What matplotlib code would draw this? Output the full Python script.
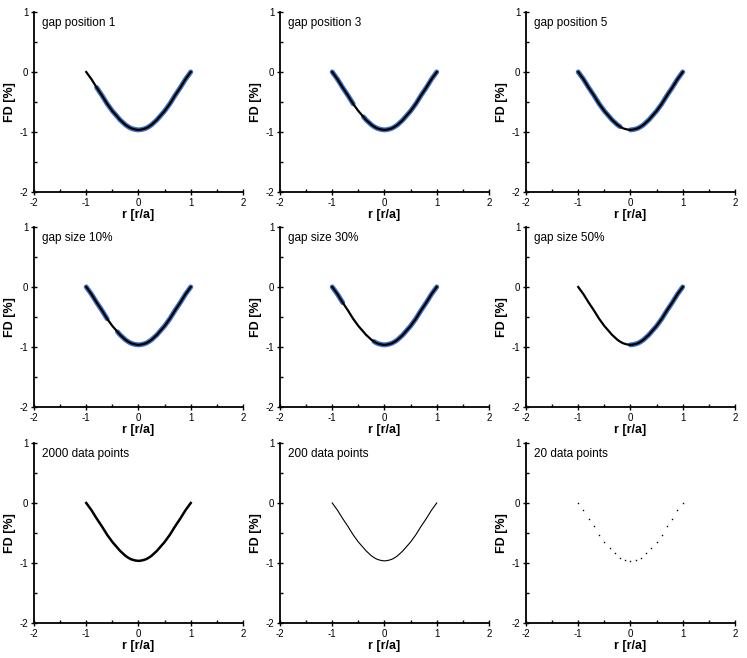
import numpy as np
from matplotlib import pyplot as plt

plt.rcParams['font.family'] = ['Liberation Sans', 'DejaVu Sans']
plt.rcParams['axes.unicode_minus'] = False

# curve, r from -1 to 1 in steps of 0.05
r_fine = np.round(np.arange(-1, 1.0001, 0.05), 3)
fd_half = [0.0, -0.06, -0.12, -0.19, -0.26, -0.325, -0.39, -0.46, -0.53, -0.59,
           -0.65, -0.70, -0.75, -0.80, -0.84, -0.88, -0.91, -0.935, -0.95, -0.96, -0.965]
fd_fine = np.array(fd_half + fd_half[-2::-1])

# the 20 data points panel (every 0.1)
r_coarse = r_fine[::2]
fd_coarse = fd_fine[::2]

titles = ["gap position 1", "gap position 3", "gap position 5",
          "gap size 10%", "gap size 30%", "gap size 50%",
          "2000 data points", "200 data points", "20 data points"]
# gaps in the blue data line (r from, r to)
gaps = [(-1.0, -0.8), (-0.6, -0.4), (-0.2, 0.0),
        (-0.6, -0.4), (-0.8, -0.2), (-1.0, 0.0)]

col_left = [0.0455, 0.3748, 0.7041]
row_bottom = [0.7082, 0.3815, 0.0532]
W, H = 0.2798, 0.2736

fig = plt.figure(figsize=(7.47, 6.58), dpi=100)

for i, title in enumerate(titles):
    row, col = divmod(i, 3)
    ax = fig.add_axes([col_left[col], row_bottom[row], W, H])

    if i < 6:
        lo, hi = gaps[i]
        data = np.where((r_fine > lo + 1e-6) & (r_fine < hi - 1e-6), np.nan, fd_fine)
        if lo <= -1.0:
            data[0] = fd_fine[0]
        ax.plot(r_fine, data, color="#3f73c4", lw=3.6, solid_capstyle="round")
        ax.plot(r_fine, fd_fine, color="black", lw=1.6)
    elif i == 6:
        ax.plot(r_fine, fd_fine, color="black", lw=1.8)
    elif i == 7:
        ax.plot(r_fine, fd_fine, color="black", lw=0.8)
    else:
        ax.plot(r_coarse, fd_coarse, ls="none", marker="s", ms=1.0, mew=0, color="black")

    ax.set_xlim(-2, 2)
    ax.set_ylim(-2, 1)
    ax.set_xticks([-2, -1, 0, 1, 2])
    ax.set_yticks([-2, -1, 0, 1])
    ax.set_xticks(np.arange(-1.5, 2, 1.0), minor=True)
    ax.set_yticks([-1.5, -0.5, 0.5], minor=True)
    ax.spines["top"].set_visible(False)
    ax.spines["right"].set_visible(False)
    ax.spines["left"].set_linewidth(1.3)
    ax.spines["bottom"].set_linewidth(1.3)
    ax.tick_params(which="major", direction="inout", length=5, width=1.0, labelsize=7, pad=1.5)
    ax.tick_params(which="minor", direction="in", length=2.5, width=1.0)
    ax.set_xlabel("r [r/a]", fontsize=9, fontweight="bold", labelpad=1)
    ax.set_ylabel("FD [%]", fontsize=9, fontweight="bold", labelpad=3)
    ax.text(0.04, 0.94, title, transform=ax.transAxes, fontsize=8.5, va="center", ha="left")

fig.savefig("out.png", dpi=100)
